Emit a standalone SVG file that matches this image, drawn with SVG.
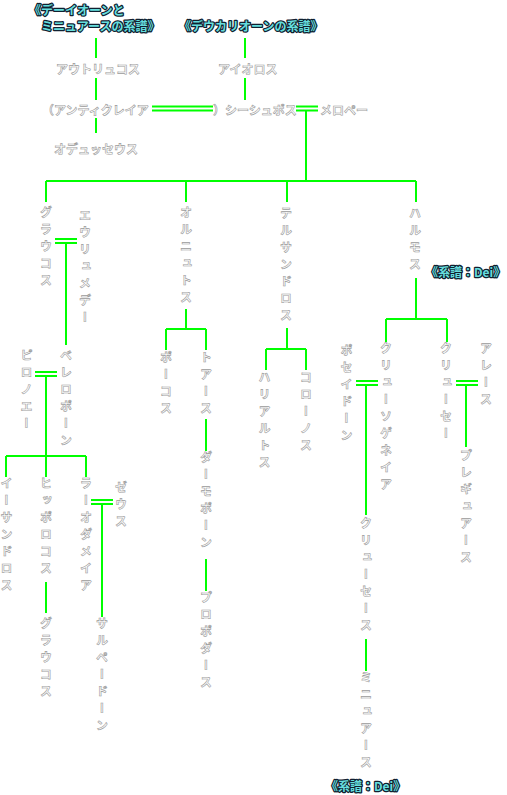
<svg xmlns="http://www.w3.org/2000/svg" width="507" height="795" viewBox="0 0 507 795">
<style>
.c{stroke:#00ff00;stroke-width:2;fill:none}
.n{font-family:"Noto Sans CJK JP","Noto Sans",sans-serif;font-size:12px;font-weight:700;fill:#ffffff;stroke:#9a9a9a;stroke-width:0.6px}
.v{writing-mode:vertical-rl;letter-spacing:5px}
.t{font-family:"Noto Sans CJK JP","Noto Sans",sans-serif;font-size:12px;font-weight:700;fill:#66dddd;stroke:#102030;stroke-width:2.4px;paint-order:stroke;stroke-linejoin:round}
</style>
<rect width="507" height="795" fill="#ffffff"/>
<g id="connectors">
<path class="c" d="M96 38V58M96 78V100M96 118V133M245 38V58M245 78V100"/>
<path class="c" d="M152 106.5H213M152 110.5H213M296 106.5H318M296 110.5H318M306 111V181"/>
<path class="c" d="M46 181H416M46 181V202M186 181V202M287 181V202M416 181V202"/>
<path class="c" d="M55 239H77M55 243H77M66 243V345"/>
<path class="c" d="M186 309V329M166 329H206M166 329V350M206 329V350M206 419V451M206 559V591"/>
<path class="c" d="M287 328V349M266 349H306M266 349V370M306 349V370"/>
<path class="c" d="M416 278V319M386 319H447M386 319V342M447 319V342"/>
<path class="c" d="M356 381H378M356 385H378M366 385V515M366 639V671"/>
<path class="c" d="M456 381H478M456 385H478M466 385V447"/>
<path class="c" d="M35 372H57M35 376H57M46 376V456M6 456H86M6 456V477M46 456V477M86 456V477M46 582V613"/>
<path class="c" d="M91 500H113M91 504H113M102 504V617"/>
</g>
<g id="title-deion"><text class="t" x="29" y="15">《デーイオーンと</text><text class="t" x="41" y="31">ミニュアースの系譜》</text></g>
<g id="title-deucalion"><text class="t" x="179" y="31">《デウカリオーンの系譜》</text></g>
<g id="autolykos"><text class="n" x="56" y="74">アウトリュコス</text></g>
<g id="aiolos"><text class="n" x="218" y="74">アイオロス</text></g>
<g id="antikleia"><text class="n" x="42" y="115">（アンティクレイア</text></g>
<g id="sisyphos"><text class="n" x="213" y="115">）シーシュポス</text></g>
<g id="merope"><text class="n" x="320" y="115">メロペー</text></g>
<g id="odysseus"><text class="n" x="54" y="154">オデュッセウス</text></g>
<g id="glaukos"><text class="n v" x="46" y="206">グラウコス</text></g>
<g id="eurymede"><text class="n v" x="85" y="209">エウリュメデー</text></g>
<g id="ornytos"><text class="n v" x="186" y="206">オルニュトス</text></g>
<g id="thersandros"><text class="n v" x="286" y="207">テルサンドロス</text></g>
<g id="harmos"><text class="n v" x="415" y="207">ハルモス</text></g>
<g id="dei-1"><text class="t" x="426" y="277">《系譜：Dei》</text></g>
<g id="philonoe"><text class="n v" x="26.5" y="349">ピロノエー</text></g>
<g id="bellerophon"><text class="n v" x="66" y="349">ベレロポーン</text></g>
<g id="phokos"><text class="n v" x="166" y="351">ポーコス</text></g>
<g id="thoas"><text class="n v" x="206" y="351">トアース</text></g>
<g id="haliartos"><text class="n v" x="264.5" y="371">ハリアルトス</text></g>
<g id="koronos"><text class="n v" x="306" y="371">コローノス</text></g>
<g id="poseidon"><text class="n v" x="346.5" y="344">ポセイドーン</text></g>
<g id="chrysogeneia"><text class="n v" x="386" y="342">クリューソゲネイア</text></g>
<g id="chryse"><text class="n v" x="446" y="342">クリューセー</text></g>
<g id="ares"><text class="n v" x="486" y="342">アレース</text></g>
<g id="isandros"><text class="n v" x="6.5" y="477">イーサンドロス</text></g>
<g id="hippolochos"><text class="n v" x="46" y="477">ヒッポロコス</text></g>
<g id="laodameia"><text class="n v" x="86" y="477">ラーオダメイア</text></g>
<g id="zeus"><text class="n v" x="121" y="481">ゼウス</text></g>
<g id="phlegyas"><text class="n v" x="466" y="449">プレギュアース</text></g>
<g id="demophon"><text class="n v" x="206" y="451">ダーモポーン</text></g>
<g id="chryses"><text class="n v" x="366" y="517">クリューセース</text></g>
<g id="sarpedon"><text class="n v" x="102" y="617">サルペードーン</text></g>
<g id="glaukos-2"><text class="n v" x="46" y="617">グラウコス</text></g>
<g id="propodas"><text class="n v" x="206" y="591">プロポダース</text></g>
<g id="minyas"><text class="n v" x="366" y="671">ミニュアース</text></g>
<g id="dei-2"><text class="t" x="326" y="791">《系譜：Dei》</text></g>
</svg>
